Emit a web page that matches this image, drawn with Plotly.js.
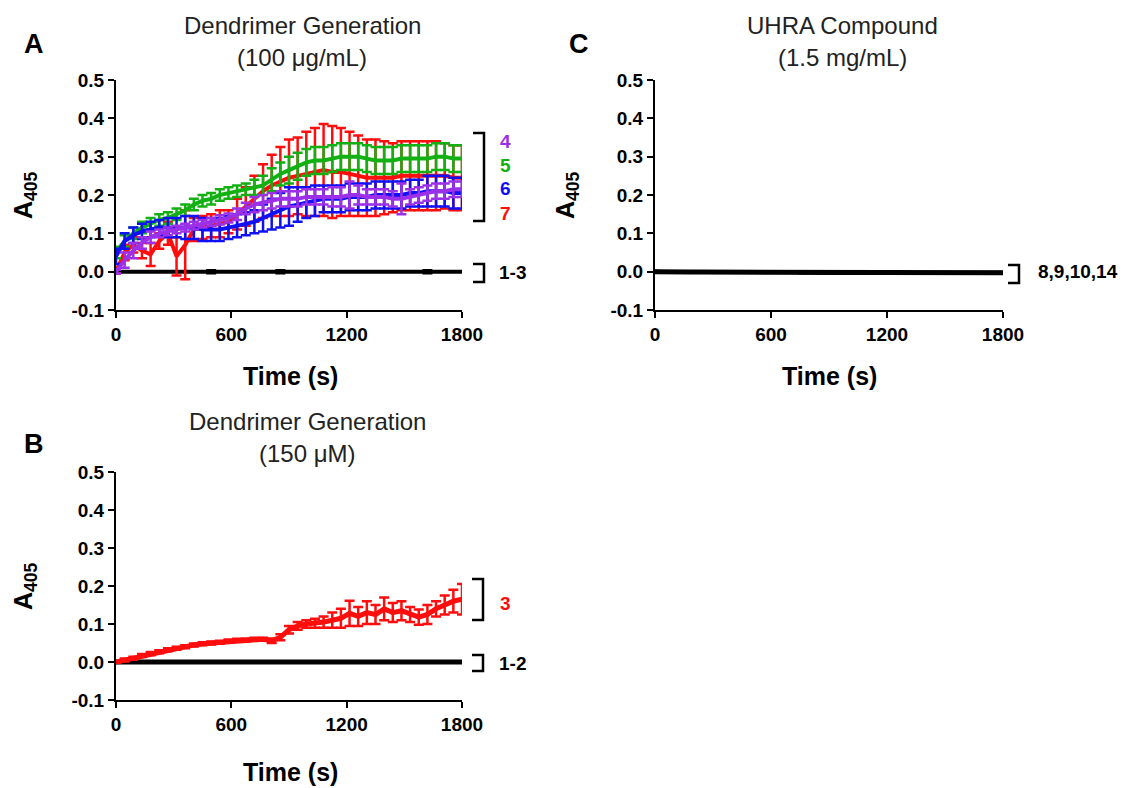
<!DOCTYPE html>
<html>
<head>
<meta charset="utf-8">
<script src="https://cdn.plot.ly/plotly-3.0.1.min.js"></script>
<style>html,body{margin:0;padding:0;background:#fff}#chart{width:1131px;height:788px}</style>
</head>
<body>
<div id="chart"></div>
<script>
// ---------- DATA ----------
const timeS = [0,45,90,135,180,225,270,315,360,405,450,495,540,585,630,675,720,765,810,855,900,945,990,1035,1080,1125,1170,1215,1260,1305,1350,1395,1440,1485,1530,1575,1620,1665,1710,1755,1800];

// Panel A (100 ug/mL)
const aG4 = [0,0.03,0.055,0.075,0.09,0.1,0.105,0.11,0.115,0.12,0.125,0.13,0.135,0.14,0.15,0.165,0.175,0.18,0.185,0.19,0.19,0.19,0.195,0.195,0.195,0.195,0.195,0.2,0.2,0.195,0.195,0.195,0.19,0.19,0.195,0.2,0.205,0.21,0.21,0.215,0.215];
const aG4err = [0.005,0.02,0.02,0.015,0.015,0.01,0.01,0.01,0.01,0.01,0.01,0.01,0.012,0.012,0.015,0.015,0.02,0.02,0.02,0.02,0.02,0.02,0.02,0.02,0.02,0.025,0.025,0.035,0.025,0.02,0.02,0.02,0.02,0.04,0.02,0.02,0.02,0.02,0.02,0.02,0.02];
const aG5 = [0.05,0.08,0.1,0.115,0.125,0.135,0.14,0.15,0.16,0.175,0.185,0.19,0.2,0.205,0.21,0.215,0.22,0.225,0.24,0.255,0.265,0.275,0.285,0.29,0.29,0.295,0.3,0.3,0.3,0.295,0.29,0.29,0.29,0.295,0.295,0.295,0.295,0.3,0.3,0.295,0.295];
const aG5err = [0.015,0.015,0.015,0.015,0.015,0.015,0.015,0.015,0.015,0.015,0.015,0.015,0.015,0.015,0.015,0.015,0.02,0.025,0.03,0.03,0.035,0.035,0.035,0.035,0.035,0.035,0.035,0.035,0.035,0.035,0.035,0.035,0.035,0.035,0.035,0.035,0.035,0.035,0.035,0.035,0.035];
const aG6 = [0.04,0.08,0.095,0.105,0.11,0.115,0.115,0.115,0.115,0.115,0.11,0.11,0.11,0.115,0.12,0.125,0.13,0.14,0.15,0.16,0.17,0.175,0.18,0.185,0.19,0.19,0.19,0.195,0.195,0.195,0.2,0.2,0.2,0.2,0.205,0.205,0.21,0.21,0.21,0.205,0.205];
const aG6err = [0.02,0.02,0.02,0.02,0.02,0.02,0.025,0.025,0.03,0.03,0.03,0.03,0.03,0.03,0.03,0.03,0.03,0.035,0.04,0.045,0.05,0.045,0.04,0.04,0.035,0.035,0.035,0.035,0.035,0.035,0.035,0.035,0.035,0.035,0.035,0.035,0.04,0.04,0.04,0.04,0.04];
const aG7 = [0,0.05,0.07,0.055,0.045,0.08,0.1,0.04,0.07,0.11,0.115,0.12,0.125,0.13,0.15,0.17,0.19,0.21,0.225,0.235,0.245,0.25,0.255,0.26,0.265,0.26,0.26,0.255,0.25,0.245,0.245,0.245,0.245,0.25,0.25,0.25,0.25,0.25,0.25,0.245,0.245];
const aG7err = [0.005,0.02,0.02,0.02,0.03,0.02,0.03,0.05,0.09,0.03,0.03,0.03,0.035,0.03,0.04,0.05,0.06,0.07,0.08,0.09,0.1,0.1,0.11,0.115,0.12,0.12,0.115,0.11,0.105,0.1,0.1,0.095,0.09,0.09,0.09,0.09,0.09,0.09,0.085,0.085,0.085];
const aG13 = [0,0,0,0,0,0,0,0,0,0,0,0,0,0,0,0,0,0,0,0,0,0,0,0,0,0,0,0,0,0,0,0,0,0,0,0,0,0,0,0,0];
const aG13err = [0,0,0,0,0,0,0,0,0,0,0,0.004,0,0,0,0,0,0,0,0.004,0,0,0,0,0,0,0,0,0,0,0,0,0,0,0,0,0.004,0,0,0,0];

// Panel B (150 uM)
const bG3 = [0,0.005,0.01,0.017,0.022,0.027,0.032,0.036,0.04,0.045,0.048,0.05,0.052,0.055,0.057,0.058,0.06,0.06,0.056,0.065,0.085,0.095,0.1,0.102,0.105,0.11,0.115,0.128,0.12,0.13,0.125,0.14,0.13,0.135,0.125,0.118,0.125,0.14,0.15,0.16,0.165];
const bG3err = [0.002,0.004,0.004,0.004,0.004,0.004,0.004,0.004,0.004,0.004,0.004,0.004,0.004,0.004,0.004,0.004,0.004,0.004,0.006,0.008,0.01,0.01,0.01,0.012,0.015,0.02,0.025,0.033,0.025,0.03,0.025,0.03,0.025,0.025,0.02,0.02,0.025,0.02,0.025,0.03,0.04];
const bG12 = [0,0,0,0,0,0,0,0,0,0,0,0,0,0,0,0,0,0,0,0,0,0,0,0,0,0,0,0,0,0,0,0,0,0,0,0,0,0,0,0,0];

// Panel C (UHRA 1.5 mg/mL)
const cUHRA = [0,-0.001,-0.001,-0.001,-0.001,-0.001,-0.001,-0.001,-0.001,-0.001,-0.001,-0.001,-0.001,-0.001,-0.001,-0.001,-0.001,-0.002,-0.002,-0.003,-0.003,-0.003,-0.003,-0.003,-0.003,-0.003,-0.003,-0.003,-0.003,-0.003,-0.003,-0.003,-0.003,-0.003,-0.003,-0.003,-0.003,-0.003,-0.003,-0.003,-0.003];
const cUHRAerr = [0.002,0.002,0.002,0.002,0.002,0.002,0.002,0.002,0.002,0.002,0.002,0.002,0.002,0.002,0.002,0.002,0.002,0.002,0.002,0.002,0.002,0.002,0.002,0.002,0.002,0.002,0.002,0.002,0.002,0.002,0.002,0.002,0.002,0.002,0.002,0.002,0.002,0.002,0.002,0.002,0.002];

const xTicks = [0,600,1200,1800];
const xTickText = ["0","600","1200","1800"];
const yTicks = [-0.1,0,0.1,0.2,0.3,0.4,0.5];
const yTickText = ["-0.1","0.0","0.1","0.2","0.3","0.4","0.5"];

// ---------- STYLE ----------
const W = 1131, H = 788;
const px = x => x / W;
const py = y => 1 - y / H;
const FONT = "Liberation Sans, Arial, Helvetica, sans-serif";
const C = {purple:'#9B30E8', green:'#12B012', blue:'#1010F5', red:'#FF0C0C', black:'#000000'};

function series(x, y, err, color, xa, ya, lw) {
  return {
    type:'scatter', mode:'lines', x:x, y:y, xaxis:xa, yaxis:ya,
    line:{color:color, width:lw || 4},
    error_y:{type:'data', array:err, visible:true, color:color, thickness:2.5, width:5},
    hoverinfo:'skip', showlegend:false
  };
}

const traces = [
  series(timeS, aG13, aG13err, C.black, 'x', 'y', 4),
  series(timeS, aG7, aG7err, C.red, 'x', 'y'),
  series(timeS, aG5, aG5err, C.green, 'x', 'y'),
  series(timeS, aG6, aG6err, C.blue, 'x', 'y'),
  series(timeS, aG4, aG4err, C.purple, 'x', 'y'),
  series(timeS, bG12, bG12.map(()=>0), C.black, 'x2', 'y2', 5),
  series(timeS, bG3, bG3err, C.red, 'x2', 'y2', 5),
  series(timeS, cUHRA, cUHRAerr, C.black, 'x3', 'y3', 5)
];

function xax(d0, d1, anchor) {
  return {domain:[px(d0), px(d1)], anchor:anchor, range:[0,1800], tickmode:'array',
    tickvals:xTicks, ticktext:xTickText, ticks:'outside', ticklen:6, tickwidth:2,
    tickcolor:'#000', showline:true, linewidth:2, linecolor:'#000', showgrid:false,
    zeroline:false, fixedrange:true,
    tickfont:{family:FONT, size:19, color:'#000', weight:'bold'}};
}
function yax(t0, t1, anchor) {
  return {domain:[py(t1), py(t0)], anchor:anchor, range:[-0.1,0.5], tickmode:'array',
    tickvals:yTicks, ticktext:yTickText, ticks:'outside', ticklen:6, tickwidth:2,
    tickcolor:'#000', showline:true, linewidth:2, linecolor:'#000', showgrid:false,
    zeroline:false, fixedrange:true,
    tickfont:{family:FONT, size:19, color:'#000', weight:'bold'}};
}

function ann(text, x, y, opts) {
  return Object.assign({text:text, x:px(x), y:py(y), xref:'paper', yref:'paper',
    showarrow:false, xanchor:'center', yanchor:'middle',
    font:{family:FONT, size:19, color:'#000', weight:'bold'}}, opts || {});
}
const titleFont = {family:FONT, size:24, color:'#222'};
const axFont = {family:FONT, size:25, color:'#000', weight:'bold'};
const letterFont = {family:FONT, size:27, color:'#000', weight:'bold'};
const lblFont = col => ({family:FONT, size:19, color:col, weight:'bold'});

const annotations = [
  ann('A', 34, 44, {font:letterFont}),
  ann('B', 34, 444, {font:letterFont}),
  ann('C', 579, 44, {font:letterFont}),
  ann('Dendrimer Generation', 302, 25, {font:titleFont}),
  ann('(100 μg/mL)', 302, 57, {font:titleFont}),
  ann('Dendrimer Generation', 307, 421, {font:titleFont}),
  ann('(150 μM)', 307, 453, {font:titleFont}),
  ann('UHRA Compound', 842, 25, {font:titleFont}),
  ann('(1.5 mg/mL)', 842, 57, {font:titleFont}),
  ann('Time (s)', 290, 376, {font:axFont}),
  ann('Time (s)', 290, 772, {font:axFont}),
  ann('Time (s)', 829, 376, {font:axFont}),
  ann('A<sub>405</sub>', 25, 195, {font:axFont, textangle:-90}),
  ann('A<sub>405</sub>', 25, 586, {font:axFont, textangle:-90}),
  ann('A<sub>405</sub>', 567, 195, {font:axFont, textangle:-90}),
  ann('4', 505, 141, {font:lblFont(C.purple)}),
  ann('5', 505, 165, {font:lblFont(C.green)}),
  ann('6', 505, 189, {font:lblFont(C.blue)}),
  ann('7', 505, 213, {font:lblFont(C.red)}),
  ann('1-3', 497, 273, {xanchor:'left'}),
  ann('3', 505, 603, {font:lblFont(C.red)}),
  ann('1-2', 497, 663, {xanchor:'left'}),
  ann('8,9,10,14', 1036, 272, {xanchor:'left'})
];

function bracket(xr, top, bot, arm) {
  const xl = xr - arm;
  return {type:'path', xref:'paper', yref:'paper', layer:'above',
    path:`M ${px(xl)} ${py(top)} L ${px(xr)} ${py(top)} L ${px(xr)} ${py(bot)} L ${px(xl)} ${py(bot)}`,
    line:{color:'#000', width:2.5}};
}
const shapes = [
  bracket(484, 133, 221, 11),
  bracket(484, 264, 282, 11),
  bracket(483, 579, 620, 11),
  bracket(483, 655, 671, 11),
  bracket(1019, 265, 283, 11)
];

const layout = {
  width:W, height:H, margin:{l:0,r:0,t:0,b:0}, paper_bgcolor:'#fff', plot_bgcolor:'rgba(0,0,0,0)',
  showlegend:false,
  xaxis: xax(116, 462, 'y'), yaxis: yax(80, 310, 'x'),
  xaxis2: xax(116, 462, 'y2'), yaxis2: yax(472, 700, 'x2'),
  xaxis3: xax(655, 1003, 'y3'), yaxis3: yax(80, 310, 'x3'),
  annotations: annotations, shapes: shapes
};

Plotly.newPlot('chart', traces, layout, {staticPlot:true, displayModeBar:false});
</script>
</body>
</html>
